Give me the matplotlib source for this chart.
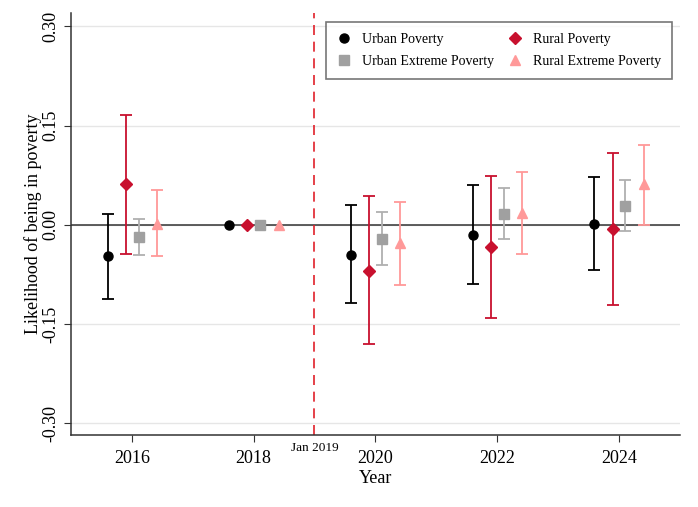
import matplotlib
matplotlib.use("Agg")
import matplotlib.pyplot as plt
import numpy as np
from matplotlib.ticker import FormatStrFormatter

plt.rcParams["font.family"] = ["Liberation Serif", "DejaVu Serif"]

# 数据
years = [2016, 2018, 2020, 2022, 2024]
series = ["Urban Poverty", "Rural Poverty", "Urban Extreme Poverty", "Rural Extreme Poverty"]

urban_est = [-0.048, 0.0, -0.045, -0.015, 0.001]
urban_lo = [-0.113, np.nan, -0.119, -0.090, -0.069]
urban_hi = [0.017, np.nan, 0.030, 0.060, 0.072]

rural_est = [0.061, 0.0, -0.070, -0.034, -0.007]
rural_lo = [-0.044, np.nan, -0.181, -0.141, -0.122]
rural_hi = [0.166, np.nan, 0.043, 0.074, 0.108]

urban_ext_est = [-0.018, 0.0, -0.021, 0.016, 0.029]
urban_ext_lo = [-0.045, np.nan, -0.061, -0.021, -0.009]
urban_ext_hi = [0.009, np.nan, 0.019, 0.055, 0.067]

rural_ext_est = [0.001, 0.0, -0.028, 0.018, 0.061]
rural_ext_lo = [-0.048, np.nan, -0.091, -0.044, 0.000]
rural_ext_hi = [0.053, np.nan, 0.034, 0.080, 0.121]

# 样式
offsets = [-0.4, -0.1, 0.11, 0.41]
markers = ["o", "D", "s", "^"]
colors = ["black", "#C8102E", "#A0A0A0", "#FF9999"]
bar_colors = ["black", "#C8102E", "#B0B0B0", "#FF9999"]
sizes = [6.5, 6.5, 6.5, 7]

fig = plt.figure(figsize=(6.98, 5.07), dpi=100)
ax = fig.add_axes([0.1017, 0.142, 0.872, 0.832])

data = [
    (urban_est, urban_lo, urban_hi),
    (rural_est, rural_lo, rural_hi),
    (urban_ext_est, urban_ext_lo, urban_ext_hi),
    (rural_ext_est, rural_ext_lo, rural_ext_hi),
]

ax.axhline(0, color="#333333", lw=1.1, zorder=1)
ax.axvline(2019, color="#E0202A", lw=1.2, ls=(0, (6, 4)), zorder=1)

handles = []
for i, (est, lo, hi) in enumerate(data):
    x = np.array(years) + offsets[i]
    est = np.array(est)
    lo = np.array(lo)
    hi = np.array(hi)
    mask = ~np.isnan(lo)
    yerr = np.vstack([est[mask] - lo[mask], hi[mask] - est[mask]])
    ax.errorbar(x[mask], est[mask], yerr=yerr, fmt="none", ecolor=bar_colors[i],
                elinewidth=1.3, capsize=4, capthick=1.3, zorder=2)
    h, = ax.plot(x, est, ls="none", marker=markers[i], color=colors[i],
                 markersize=sizes[i], label=series[i], zorder=3)
    handles.append(h)

ax.set_xlim(2015, 2025)
ax.set_ylim(-0.318, 0.32)
ax.set_xticks(years)
ax.set_yticks([-0.30, -0.15, 0.0, 0.15, 0.30])
ax.yaxis.set_major_formatter(FormatStrFormatter("%.2f"))
ax.grid(axis="y", color="#E6E6E6", lw=1)
ax.set_axisbelow(True)
ax.tick_params(axis="both", labelsize=13, color="#333333", length=5)
ax.tick_params(axis="x", pad=6)
for lab in ax.get_yticklabels():
    lab.set_rotation(90)
    lab.set_va("center")

for s in ["top", "right"]:
    ax.spines[s].set_visible(False)
for s in ["left", "bottom"]:
    ax.spines[s].set_color("#333333")
    ax.spines[s].set_linewidth(1.1)

ax.set_xlabel("Year", fontsize=13, labelpad=2)
ax.set_ylabel("Likelihood of being in poverty", fontsize=13, labelpad=0)
ax.text(2019, -0.328, "Jan 2019", ha="center", va="top", fontsize=9.5,
        transform=ax.transData, clip_on=False)

# 按行排列图例
order = [0, 2, 1, 3]
leg = ax.legend([handles[k] for k in order], [series[k] for k in order],
                loc="upper right", bbox_to_anchor=(0.999, 0.995), ncol=2,
                fontsize=10, frameon=True, fancybox=False, edgecolor="#555555",
                handletextpad=0.8, columnspacing=1.0, borderpad=0.8, labelspacing=0.6,
                handlelength=1.0, borderaxespad=0.5)
leg.get_frame().set_linewidth(1.2)

fig.savefig("out.png", dpi=100)
